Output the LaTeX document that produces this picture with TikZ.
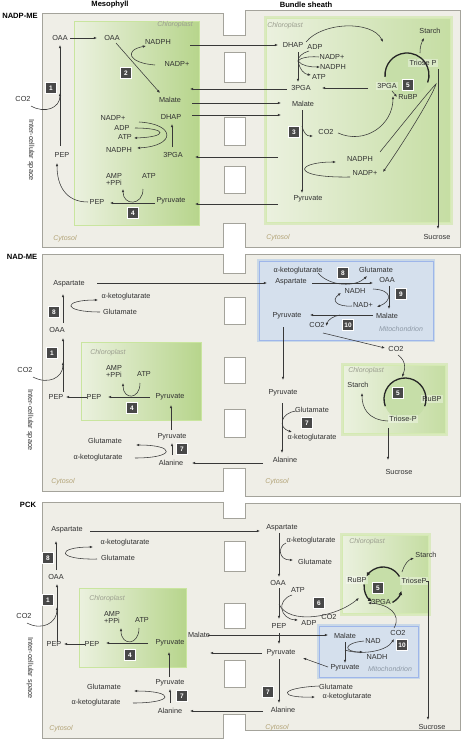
\documentclass[tikz,border=0pt]{standalone}
\usepackage{fontspec}
\setmainfont{Liberation Sans}
\usetikzlibrary{arrows.meta,shadows}
\definecolor{cellfill}{HTML}{EFEEE7}
\definecolor{cellline}{HTML}{A4A39B}
\definecolor{txt}{HTML}{303030}
\definecolor{arr}{HTML}{383838}
\definecolor{numfill}{HTML}{484848}
\definecolor{chlL}{HTML}{EBF1DF}
\definecolor{chlR}{HTML}{B7D58C}
\definecolor{glow}{HTML}{C9E59F}
\definecolor{cycfill}{HTML}{C6DEA8}
\definecolor{mitofill}{HTML}{D5E0ED}
\definecolor{mitoline}{HTML}{B0CAE8}
\definecolor{cyto}{HTML}{B3A478}
\definecolor{chltxt}{HTML}{9C9F90}
\definecolor{mitotxt}{HTML}{8D99A6}
\tikzset{
  lbl/.style = {text=txt, font=\fontsize{7.3}{7}\selectfont, inner sep=0.5pt},
  ttl/.style = {text=black, font=\fontsize{7.6}{8}\selectfont\bfseries, inner sep=0pt},
  tag/.style = {font=\fontsize{7}{8}\selectfont\itshape, inner sep=0pt},
  num/.style = {fill=numfill, draw=white, line width=0.9pt, text=white,
                font=\fontsize{6.5}{7}\selectfont\bfseries,
                minimum size=11.5pt, inner sep=0pt,
                drop shadow={shadow xshift=0.7pt, shadow yshift=-0.7pt, opacity=0.35}},
  cyclbl/.style = {lbl, fill=white, fill opacity=0.35, text opacity=1, inner sep=1.5pt},
  rx/.style = {draw=arr, line width=0.55pt, -{Latex[length=3.2pt, width=2.6pt]}},
  ln/.style = {draw=arr, line width=0.55pt},
  cyc/.style = {draw=black!85, line width=1.3pt},
  cell/.style = {fill=cellfill, draw=cellline, line width=0.9pt},
  hole/.style = {fill=white, draw=cellline, line width=0.8pt},
  meso/.style = {left color=chlL, right color=chlR, draw=glow, line width=0.8pt},
  bundle/.style = {left color=chlL, right color=chlR!80!white, draw=glow!80!white, line width=0.8pt},
  halo/.style = {draw=glow, line width=5pt, draw opacity=0.55},
  mitohalo/.style = {draw=mitoline, line width=4.5pt, draw opacity=0.6},
  mito/.style = {fill=mitofill, draw=mitoline!90!blue, line width=0.8pt}
}

\begin{document}
\begin{tikzpicture}[x=1pt, y=-1pt]
	\useasboundingbox (0,0) rectangle (462,739);

	% Headings
	\node[ttl] (tMeso) at (110,5) {Mesophyll};
	\node[ttl] (tBund) at (306,5) {Bundle sheath};
	\node[ttl] (tNADP) at (20,16) {NADP-ME};
	\node[ttl] (tNAD)  at (22,257) {NAD-ME};
	\node[ttl] (tPCK)  at (28,505) {PCK};

	%%%%%%%%%%%%%%%% NADP-ME %%%%%%%%%%%%%%%%
	% Cells
	\filldraw[cell] (42,13) -- (223,13) -- (223,35) -- (245,35) -- (245,10) -- (460,10)
		-- (460,247) -- (245,247) -- (245,223) -- (223,223) -- (223,247) -- (42,247) -- cycle;
	\filldraw[hole] (224,52) rectangle (245,82);
	\filldraw[hole] (224,117) rectangle (245,145);
	\filldraw[hole] (224,166) rectangle (245,193);

	% Chloroplasts
	\filldraw[meso] (74,21) rectangle (199,225);
	\draw[halo] (266,18) rectangle (450,222);
	\filldraw[bundle] (266,18) rectangle (450,222);
	\fill[cycfill] (407,75) circle (22);
	\node[tag, text=chltxt] (chlMa) at (175,25) {Chloroplast};
	\node[tag, text=chltxt] (chlBa) at (285,26) {Chloroplast};
	\node[tag, text=cyto] (cytMa) at (65,239) {Cytosol};
	\node[tag, text=cyto] (cytBa) at (278,238) {Cytosol};
	\node[lbl, rotate=-90] (spaceA) at (31,150) {Inter-cellular space};

	% Mesophyll
	\node[lbl] (oaaCa) at (60,38) {OAA};
	\node[lbl] (oaaMa) at (112,38) {OAA};
	\node[lbl] (nadphMa) at (158,42) {NADPH};
	\node[lbl] (nadpMa) at (177,64) {NADP+};
	\node[lbl] (malMa) at (170,100) {Malate};
	\node[lbl] (dhapMa) at (171,117) {DHAP};
	\node[lbl] (nadpMb) at (113,118) {NADP+};
	\node[lbl] (adpMa) at (122,128) {ADP};
	\node[lbl] (atpMa) at (125,137) {ATP};
	\node[lbl] (nadphMb) at (119,150) {NADPH};
	\node[lbl] (pgaMa) at (173,155) {3PGA};
	\node[lbl] (pepCa) at (62,155) {PEP};
	\node[lbl] (co2Ca) at (23,99) {CO2};
	\node[lbl, align=center] (ampMa) at (114,179) {AMP\\+PPi};
	\node[lbl] (atpMb) at (149,176) {ATP};
	\node[lbl] (pepMa) at (97,202) {PEP};
	\node[lbl] (pyrMa) at (171,201) {Pyruvate};
	\node[num] (one_a) at (51,88) {1};
	\node[num] (two_a) at (126,73) {2};
	\node[num] (four_a) at (133,213) {4};

	\draw[rx] (70,38) -- (97,38);
	\draw[rx] (60,146) -- (60,45);
	\draw[rx] (31,106) .. controls (45,114) and (60,108) .. (60,93);
	\draw[rx] (88,202) .. controls (66,202) and (57,186) .. (57,163);
	\draw[rx] (155,203) -- (110,203);
	\draw[rx] (143,189) .. controls (143,206) and (123,206) .. (123,189);
	\draw[rx] (116,43) -- (160,93);
	\draw[rx] (155,65) .. controls (128,63) and (124,50) .. (146,46);
	\draw[rx] (172,147) -- (172,124);
	\draw[rx] (139,122) .. controls (176,124) and (176,146) .. (137,148);
	\draw[rx] (135,128) .. controls (168,128) and (168,137) .. (134,138);

	% Between the cells
	\draw[rx] (190,45) -- (278,45);
	\draw[rx] (287,89) -- (190,89);
	\draw[rx] (192,103) -- (281,103);
	\draw[rx] (192,115) -- (281,115);
	\draw[rx] (278,157) -- (195,157);
	\draw[rx] (278,204) -- (195,204);

	% Bundle sheath
	\node[lbl] (dhapBa) at (293,45) {DHAP};
	\node[lbl] (adpBa) at (315,47) {ADP};
	\node[lbl] (nadpBa) at (332,57) {NADP+};
	\node[lbl] (nadphBa) at (333,67) {NADPH};
	\node[lbl] (atpBa) at (319,77) {ATP};
	\node[lbl] (pgaBa) at (301,88) {3PGA};
	\node[lbl] (malBa) at (303,104) {Malate};
	\node[lbl] (co2Ba) at (326,132) {CO2};
	\node[lbl] (nadphBb) at (360,159) {NADPH};
	\node[lbl] (nadpBb) at (365,173) {NADP+};
	\node[lbl] (pyrBa) at (308,199) {Pyruvate};
	\node[lbl] (starchA) at (430,31) {Starch};
	\node[cyclbl] (trioseA) at (423,63) {Triose P};
	\node[cyclbl] (pgaCa) at (387,86) {3PGA};
	\node[lbl] (rubpA) at (408,97) {RuBP};
	\node[lbl] (sucA) at (437,237) {Sucrose};
	\node[num] (three_a) at (294,132) {3};
	\node[num] (five_a) at (408,85) {5};

	\draw[cyc] ([shift={(-185:22)}]407,75) arc[start angle=-185, end angle=20, radius=22];
	\draw[rx] (306,42) .. controls (322,22) and (372,20) .. (383,42);
	\draw[rx] (298,52) -- (298,82);
	\draw[ln] (309,51) .. controls (302,53) and (298,57) .. (298,61);
	\draw[ln] (319,57) .. controls (308,56) and (300,58) .. (298,61);
	\draw[rx] (298,61) .. controls (302,66) and (310,67) .. (320,67);
	\draw[rx] (298,61) .. controls (300,70) and (304,74) .. (311,75);
	\draw[rx] (368,88) -- (322,88);
	\draw[rx] (392,91) -- (397,97);
	\draw[rx] (420,53) .. controls (420,45) and (422,42) .. (424,38);
	\draw[rx] (438,69) -- (438,229);
	\draw[rx] (338,133) .. controls (365,145) and (393,125) .. (393,96);
	\draw[rx] (380,152) .. controls (410,115) and (430,90) .. (436,84)
		.. controls (434,92) and (412,130) .. (383,172);
	\draw[rx] (302,110) -- (302,193);
	\draw[rx] (302,126) .. controls (304,134) and (307,136) .. (313,136);
	\draw[rx] (350,177) .. controls (290,178) and (295,162) .. (336,162);

	%%%%%%%%%%%%%%%% NAD-ME %%%%%%%%%%%%%%%%
	% Cells
	\filldraw[cell] (42,254) -- (223,254) -- (223,273) -- (245,273) -- (245,254) -- (460,254)
		-- (460,496) -- (245,496) -- (245,468) -- (223,468) -- (223,491) -- (42,491) -- cycle;
	\filldraw[hole] (224,297) rectangle (245,324);
	\filldraw[hole] (224,357) rectangle (245,383);
	\filldraw[hole] (224,409) rectangle (245,437);

	% Organelles
	\filldraw[meso] (81,342) rectangle (201,420);
	\draw[mitohalo] (259,261) rectangle (433,340);
	\filldraw[mito] (259,261) rectangle (433,340);
	\draw[halo] (343,365) rectangle (445,433);
	\filldraw[bundle] (343,365) rectangle (445,433);
	\fill[cycfill] (405,399) circle (21);
	\node[tag, text=chltxt] (chlMb) at (108,353) {Chloroplast};
	\node[tag, text=chltxt] (chlBb) at (366,371) {Chloroplast};
	\node[tag, text=mitotxt] (mitB) at (401,329) {Mitochondrion};
	\node[tag, text=cyto] (cytMb) at (63,482) {Cytosol};
	\node[tag, text=cyto] (cytBb) at (277,482) {Cytosol};
	\node[lbl, rotate=-90] (spaceB) at (30,420) {Inter-cellular space};

	% Mesophyll
	\node[lbl] (aspCb) at (69,284) {Aspartate};
	\node[lbl] (akgCb) at (126,297) {α-ketoglutarate};
	\node[lbl] (gluCb) at (120,312) {Glutamate};
	\node[lbl] (oaaCb) at (57,330) {OAA};
	\node[lbl] (co2Cb) at (25,370) {CO2};
	\node[lbl] (pepCb) at (56,397) {PEP};
	\node[lbl] (pepMb) at (94,397) {PEP};
	\node[lbl, align=center] (ampMb) at (114,371) {AMP\\+PPi};
	\node[lbl] (atpMc) at (144,374) {ATP};
	\node[lbl] (pyrMb) at (170,397) {Pyruvate};
	\node[lbl] (pyrCb) at (172,437) {Pyruvate};
	\node[lbl] (alaCb) at (171,463) {Alanine};
	\node[lbl] (gluCc) at (105,441) {Glutamate};
	\node[lbl] (akgCc) at (98,458) {α-ketoglutarate};
	\node[num] (eight_b) at (54,312) {8};
	\node[num] (one_b) at (52,353) {1};
	\node[num] (four_b) at (132,408) {4};
	\node[num] (seven_b) at (182,449) {7};

	\draw[rx] (63,323) -- (63,294);
	\draw[rx] (100,312) .. controls (62,312) and (62,300) .. (98,300);
	\draw[rx] (63,392) -- (63,338);
	\draw[rx] (33,377) .. controls (48,385) and (63,378) .. (63,362);
	\draw[rx] (87,397) -- (66,397);
	\draw[rx] (150,397) -- (108,397);
	\draw[rx] (140,383) .. controls (140,400) and (123,400) .. (123,383);
	\draw[rx] (171,430) -- (171,405);
	\draw[rx] (172,455) -- (172,443);
	\draw[rx] (135,458) .. controls (176,458) and (176,445) .. (136,445);

	% Between the cells
	\draw[rx] (97,283) -- (267,283);
	\draw[rx] (263,463) -- (192,463);

	% Bundle sheath
	\node[lbl] (akgBb) at (298,271) {α-ketoglutarate};
	\node[lbl] (gluBb) at (376,270) {Glutamate};
	\node[lbl] (aspBb) at (291,282) {Aspartate};
	\node[lbl] (oaaBb) at (387,280) {OAA};
	\node[lbl] (nadhBb) at (355,291) {NADH};
	\node[lbl] (nadBb) at (363,305) {NAD+};
	\node[lbl] (malBb) at (387,316) {Malate};
	\node[lbl] (pyrXb) at (287,316) {Pyruvate};
	\node[lbl] (co2Xb) at (317,325) {CO2};
	\node[lbl] (co2Bb) at (396,349) {CO2};
	\node[lbl] (pyrBb) at (283,393) {Pyruvate};
	\node[lbl] (gluBc) at (312,410) {Glutamate};
	\node[lbl] (akgBc) at (312,438) {α-ketoglutarate};
	\node[lbl] (alaBb) at (285,460) {Alanine};
	\node[lbl] (starchB) at (358,385) {Starch};
	\node[cyclbl] (rubpB) at (432,399) {RuBP};
	\node[cyclbl] (trioseB) at (403,419) {Triose-P};
	\node[lbl] (sucB) at (399,472) {Sucrose};
	\node[num] (eight_bb) at (343,273) {8};
	\node[num] (nine_b) at (401,294) {9};
	\node[num] (ten_b) at (348,325) {10};
	\node[num] (seven_bb) at (307,423) {7};
	\node[num] (five_b) at (398,393) {5};

	\draw[rx] (312,283) -- (373,283);
	\draw[rx] (318,273) .. controls (330,287) and (356,287) .. (367,276);
	\draw[rx] (389,286) -- (389,309);
	\draw[rx] (373,289) .. controls (393,290) and (392,301) .. (377,307);
	\draw[rx] (373,315) -- (310,315);
	\draw[rx] (352,306) .. controls (336,307) and (331,300) .. (341,293);
	\draw[rx] (340,315) .. controls (333,316) and (328,320) .. (326,326);
	\draw[rx] (323,333) -- (385,348);
	\draw[rx] (398,355) .. controls (408,362) and (404,372) .. (402,377);
	\draw[cyc] ([shift={(-200:21)}]405,399) arc[start angle=-200, end angle=20, radius=21];
	\draw[rx] (388,421) .. controls (368,420) and (362,408) .. (362,393);
	\draw[rx] (388,428) -- (388,460);
	\draw[rx] (283,327) -- (283,380);
	\draw[rx] (282,403) -- (282,453);
	\draw[rx] (296,411) .. controls (280,413) and (278,428) .. (292,432);

	%%%%%%%%%%%%%%%% PCK %%%%%%%%%%%%%%%%
	% Cells
	\filldraw[cell] (42,502) -- (223,502) -- (223,518) -- (245,518) -- (245,503) -- (460,503)
		-- (460,730) -- (245,730) -- (245,714) -- (223,714) -- (223,738) -- (42,738) -- cycle;
	\filldraw[hole] (224,541) rectangle (245,571);
	\filldraw[hole] (224,603) rectangle (245,628);
	\filldraw[hole] (224,660) rectangle (245,687);

	% Organelles
	\filldraw[meso] (79,588) rectangle (186,667);
	\draw[halo] (342,535) rectangle (428,613);
	\filldraw[bundle] (342,535) rectangle (428,613);
	\fill[cycfill] (383,586) circle (19);
	\draw[mitohalo] (319,626) rectangle (418,677);
	\filldraw[mito] (319,626) rectangle (418,677);
	\node[tag, text=chltxt] (chlMc) at (107,599) {Chloroplast};
	\node[tag, text=chltxt] (chlBc) at (367,542) {Chloroplast};
	\node[tag, text=mitotxt] (mitC) at (390,669) {Mitochondrion};
	\node[tag, text=cyto] (cytMc) at (61,729) {Cytosol};
	\node[tag, text=cyto] (cytBc) at (277,728) {Cytosol};
	\node[lbl, rotate=-90] (spaceC) at (30,668) {Inter-cellular space};

	% Mesophyll
	\node[lbl] (aspCc) at (67,530) {Aspartate};
	\node[lbl] (akgCd) at (125,543) {α-ketoglutarate};
	\node[lbl] (gluCd) at (118,558) {Glutamate};
	\node[lbl] (oaaCc) at (56,577) {OAA};
	\node[lbl] (co2Cc) at (24,616) {CO2};
	\node[lbl] (pepCc) at (54,644) {PEP};
	\node[lbl] (pepMc) at (92,644) {PEP};
	\node[lbl, align=center] (ampMc) at (112,617.5) {AMP\\+PPi};
	\node[lbl] (atpMd) at (142,620) {ATP};
	\node[lbl] (pyrMc) at (170,643) {Pyruvate};
	\node[lbl] (pyrCc) at (170,683) {Pyruvate};
	\node[lbl] (alaCc) at (170,711) {Alanine};
	\node[lbl] (gluCe) at (104,687) {Glutamate};
	\node[lbl] (akgCe) at (96,703) {α-ketoglutarate};
	\node[lbl] (malCc) at (199,635) {Malate};
	\node[num] (eight_c) at (48,558) {8};
	\node[num] (one_c) at (48,600) {1};
	\node[num] (four_c) at (130,655) {4};
	\node[num] (seven_c) at (182,696) {7};

	\draw[rx] (56,570) -- (56,541);
	\draw[rx] (97,559) .. controls (56,560) and (56,547) .. (93,547);
	\draw[rx] (57,642) -- (57,584);
	\draw[rx] (27,623) .. controls (42,631) and (57,623) .. (57,607);
	\draw[rx] (85,644) -- (64,644);
	\draw[rx] (148,643) -- (106,643);
	\draw[rx] (139,628) .. controls (139,646) and (121,646) .. (121,628);
	\draw[rx] (169,677) -- (169,652);
	\draw[rx] (170,703) -- (170,689);
	\draw[rx] (133,703) .. controls (175,703) and (175,691) .. (134,691);

	% Between the cells
	\draw[rx] (90,531) -- (260,531);
	\draw[rx] (208,635) -- (328,635);
	\draw[rx] (262,653) -- (210,653);
	\draw[rx] (263,711) -- (190,711);

	% Bundle sheath
	\node[lbl] (aspBc) at (282,528) {Aspartate};
	\node[lbl] (akgBd) at (311,541) {α-ketoglutarate};
	\node[lbl] (gluBd) at (315,562) {Glutamate};
	\node[lbl] (oaaBc) at (278,583) {OAA};
	\node[lbl] (atpBc) at (298,590) {ATP};
	\node[lbl] (pepBc) at (279,626) {PEP};
	\node[lbl] (adpBc) at (309,623) {ADP};
	\node[lbl] (co2Bc) at (329,617) {CO2};
	\node[lbl] (pyrBc) at (281,653) {Pyruvate};
	\node[lbl] (gluBe) at (336,687) {Glutamate};
	\node[lbl] (akgBe) at (347,697) {α-ketoglutarate};
	\node[lbl] (alaBc) at (283,710) {Alanine};
	\node[lbl] (malXc) at (345,636) {Malate};
	\node[lbl] (nadXc) at (373,641) {NAD};
	\node[lbl] (co2Xc) at (398,633) {CO2};
	\node[lbl] (nadhXc) at (377,657) {NADH};
	\node[lbl] (pyrXc) at (345,668) {Pyruvate};
	\node[lbl] (starchC) at (426,555) {Starch};
	\node[cyclbl] (rubpC) at (357,580) {RuBP};
	\node[cyclbl] (trioseC) at (414,581) {TrioseP};
	\node[lbl] (pgaCc) at (381,602) {3PGA};
	\node[lbl] (sucC) at (432,727) {Sucrose};
	\node[num] (six_c) at (319,603) {6};
	\node[num] (seven_cc) at (268,692) {7};
	\node[num] (ten_c) at (402,645) {10};
	\node[num] (five_c) at (378,588) {5};

	\draw[rx] (279,533) -- (279,577);
	\draw[rx] (286,543) .. controls (278,546) and (278,560) .. (293,560);
	\draw[rx] (279,588) -- (279,619);
	\draw[rx] (292,595) .. controls (276,600) and (280,619) .. (298,620);
	\draw[rx] (279,604) .. controls (288,625) and (335,618) .. (359,598);
	\draw[rx] (279,633) -- (279,644);
	\draw[rx] (279,659) -- (279,703);
	\draw[rx] (319,686) .. controls (278,688) and (278,698) .. (315,697);
	\draw[rx] (328,667) -- (303,658);
	\draw[rx] (345,642) -- (345,663);
	\draw[rx] (364,641) .. controls (343,643) and (343,652) .. (363,652);
	\draw[rx] (345,650) .. controls (360,655) and (386,652) .. (394,639);
	\draw[rx] (394,628) .. controls (402,614) and (388,604) .. (368,603);
	\draw[cyc, -{Latex[length=4pt, width=4pt]}] ([shift={(-30:19)}]383,586) arc[start angle=-30, end angle=-150, radius=19];
	\draw[cyc, -{Latex[length=4pt, width=4pt]}] ([shift={(-175:19)}]383,586) arc[start angle=-175, end angle=-235, radius=19];
	\draw[cyc, -{Latex[length=4pt, width=4pt]}] ([shift={(-300:19)}]383,586) arc[start angle=-300, end angle=-345, radius=19];
	\draw[rx] (402,572) .. controls (404,565) and (408,560) .. (414,558);
	\draw[rx] (426,581) -- (428,581) -- (428,720);

\end{tikzpicture}
\end{document}
